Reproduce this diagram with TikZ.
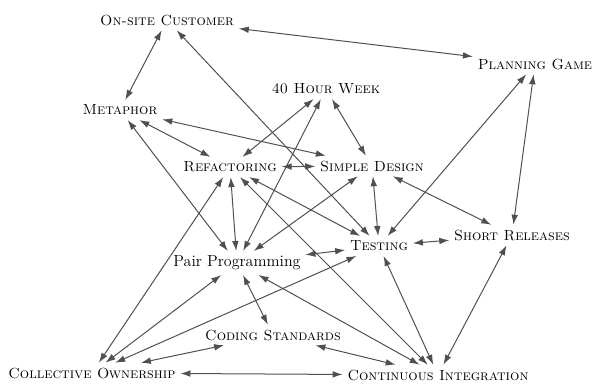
\documentclass[tikz,border=0pt]{standalone}
\usepackage{amsmath}
\usepackage{amssymb}
\usepackage{tikz}
\usetikzlibrary{arrows.meta}

\begin{document}
\begin{tikzpicture}[x=0.75pt,y=0.75pt,yscale=-1,xscale=1,
	practice/.style={inner sep=3.5pt,font=\fontsize{11}{13}\selectfont\scshape},
	link/.style={draw={rgb, 255:red, 80; green, 80; blue, 80},line width=0.75pt,{Latex[length=7.5pt,width=5pt]}-{Latex[length=7.5pt,width=5pt]}}]
	\useasboundingbox (0,0) rectangle (593,388);
	
	% Text Node
	\node [practice] (osc) at (167,20) {On-site Customer};
	% Text Node
	\node [practice] (plan) at (535,64) {Planning Game};
	% Text Node
	\node [practice] (week) at (326,89) {40 Hour Week};
	% Text Node
	\node [practice] (meta) at (120,110) {Metaphor};
	% Text Node
	\node [practice] (refac) at (230,167) {Refactoring};
	% Text Node
	\node [practice] (simple) at (372,166) {Simple Design};
	% Text Node
	\node [practice] (test) at (379,246) {Testing};
	% Text Node
	\node [practice] (short) at (512,235) {Short Releases};
	% Text Node
	\node [practice,font=\fontsize{12}{14}\selectfont] (pair) at (237,263) {Pair Programming};
	% Text Node
	\node [practice] (coding) at (273,335) {Coding Standards};
	% Text Node
	\node [practice] (owner) at (92,373) {Collective Ownership};
	% Text Node
	\node [practice] (integ) at (438,375) {Continuous Integration};
	
	%Straight Lines
	\draw [link] (osc) -- (plan);
	%Straight Lines
	\draw [link] (osc) -- (meta);
	%Straight Lines
	\draw [link] (osc) -- (test);
	%Straight Lines
	\draw [link] (meta) -- (refac);
	%Straight Lines
	\draw [link] (meta) -- (simple);
	%Straight Lines
	\draw [link] (meta) -- (pair);
	%Straight Lines
	\draw [link] (week) -- (refac);
	%Straight Lines
	\draw [link] (week) -- (pair);
	%Straight Lines
	\draw [link] (week) -- (simple);
	%Straight Lines
	\draw [link] (refac) -- (simple);
	%Straight Lines
	\draw [link] (refac) -- (pair);
	%Straight Lines
	\draw [link] (refac) -- (test);
	%Straight Lines
	\draw [link] (refac) -- (integ);
	%Straight Lines
	\draw [link] (refac) -- (owner);
	%Straight Lines
	\draw [link] (simple) -- (pair);
	%Straight Lines
	\draw [link] (simple) -- (test);
	%Straight Lines
	\draw [link] (simple) -- (short);
	%Straight Lines
	\draw [link] (plan) -- (test);
	%Straight Lines
	\draw [link] (plan) -- (short);
	%Straight Lines
	\draw [link] (test) -- (pair);
	%Straight Lines
	\draw [link] (test) -- (short);
	%Straight Lines
	\draw [link] (test) -- (integ);
	%Straight Lines
	\draw [link] (test) -- (owner);
	%Straight Lines
	\draw [link] (short) -- (integ);
	%Straight Lines
	\draw [link] (pair) -- (coding);
	%Straight Lines
	\draw [link] (pair) -- (owner);
	%Straight Lines
	\draw [link] (pair) -- (integ);
	%Straight Lines
	\draw [link] (coding) -- (owner);
	%Straight Lines
	\draw [link] (coding) -- (integ);
	%Straight Lines
	\draw [link] (owner) -- (integ);
	
\end{tikzpicture}
\end{document}
